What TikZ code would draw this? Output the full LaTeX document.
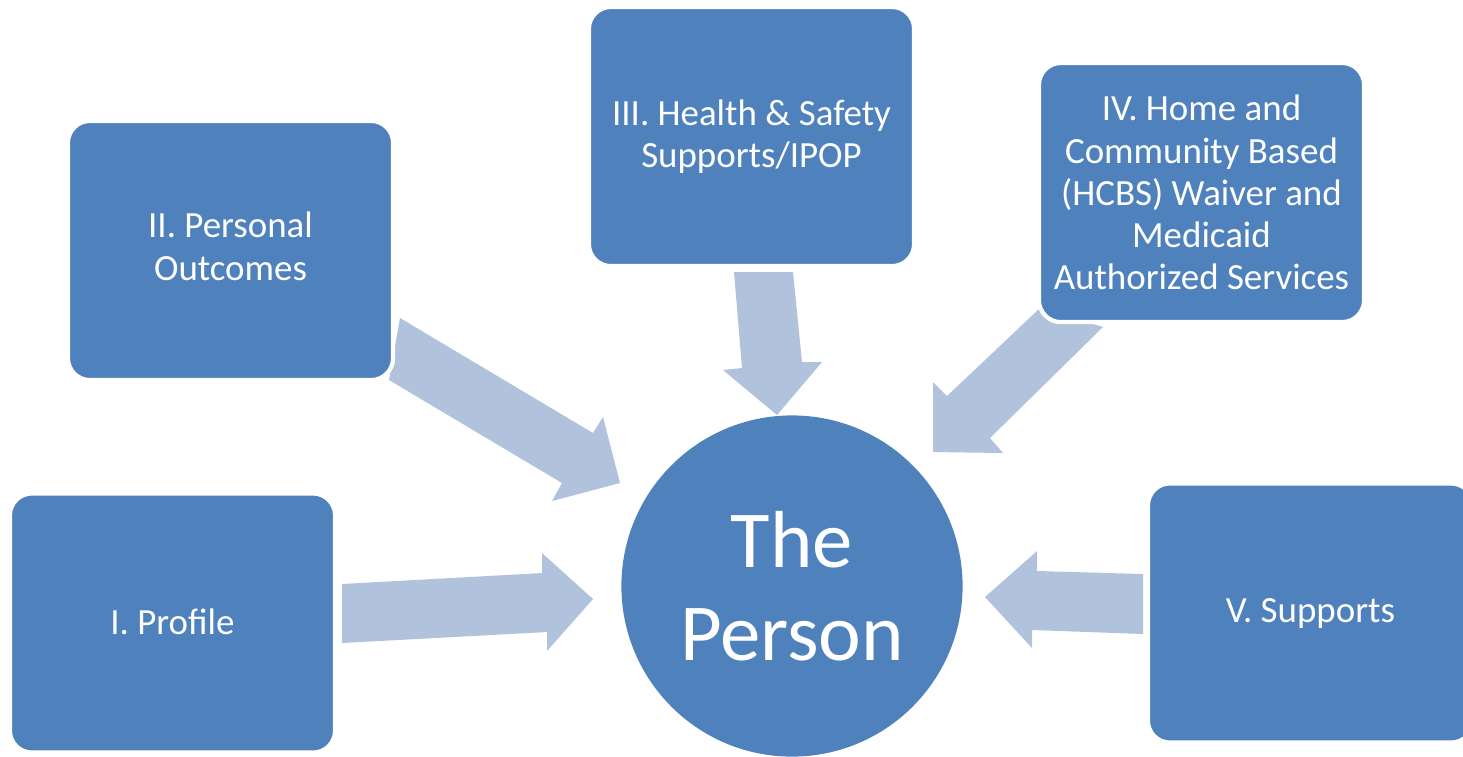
\documentclass[tikz,border=0pt]{standalone}
\usepackage{fontspec}
\setmainfont{Carlito}
\definecolor{boxblue}{HTML}{4F81BD}
\definecolor{arrowblue}{HTML}{B1C2DD}
\tikzset{
  sbox/.style={draw=white, line width=1.2pt, fill=boxblue, rounded corners=0.22cm,
    minimum width=3.25cm, minimum height=2.59cm, inner sep=0pt, text=white,
    align=center, font=\fontsize{10.5pt}{12pt}\selectfont},
  barrow/.style={fill=arrowblue, draw=none},
  person/.style={circle, fill=boxblue, draw=none, minimum size=3.41cm, inner sep=0pt,
    text=white, align=center, font=\fontsize{23pt}{26.5pt}\selectfont}
}
\begin{document}
\begin{tikzpicture}[x=0.01cm, y=-0.01cm]
\useasboundingbox (0,0) rectangle (1463,756);
\clip (0,0) rectangle (1463,756);
% block arrows
\draw[barrow] (342,584) -- (542,573) -- (542,553) -- (593,599) -- (547,651) -- (547,632) -- (342,643) -- cycle;
\draw[barrow] (400,318) -- (593,433) -- (603,417) -- (620,483) -- (552,501) -- (562,483) -- (389,380) -- cycle;
\draw[barrow] (734,272) -- (793,272) -- (802,362) -- (822,362) -- (777,415) -- (723,370) -- (742,368) -- cycle;
\draw[barrow] (1040,308) -- (1103,327) -- (990,438) -- (1003,453) -- (933,452) -- (933,382) -- (947,396) -- cycle;
\draw[barrow] (1143,574) -- (1037,571) -- (1037,551) -- (985,597) -- (1032,648) -- (1032,630) -- (1143,634) -- cycle;
% boxes
\node[sbox] (b2) at (230.5,250.5) {\raisebox{5pt}{\begin{tabular}{@{}c@{}}II. Personal\\Outcomes\end{tabular}}};
\node[sbox] (b3) at (751.5,136.5) {III. Health \& Safety\\Supports/IPOP};
\node[sbox] (b4) at (1201.5,192.5) {IV. Home and\\Community Based\\(HCBS) Waiver and\\Medicaid\\Authorized Services};
\node[sbox] (b1) at (172.5,623) {\raisebox{0.8pt}{I. Profile}};
\node[sbox] (b5) at (1310.5,613) {V. Supports};
% centre
\node[person] (p) at (792,586) {The\\Person};
\end{tikzpicture}
\end{document}
